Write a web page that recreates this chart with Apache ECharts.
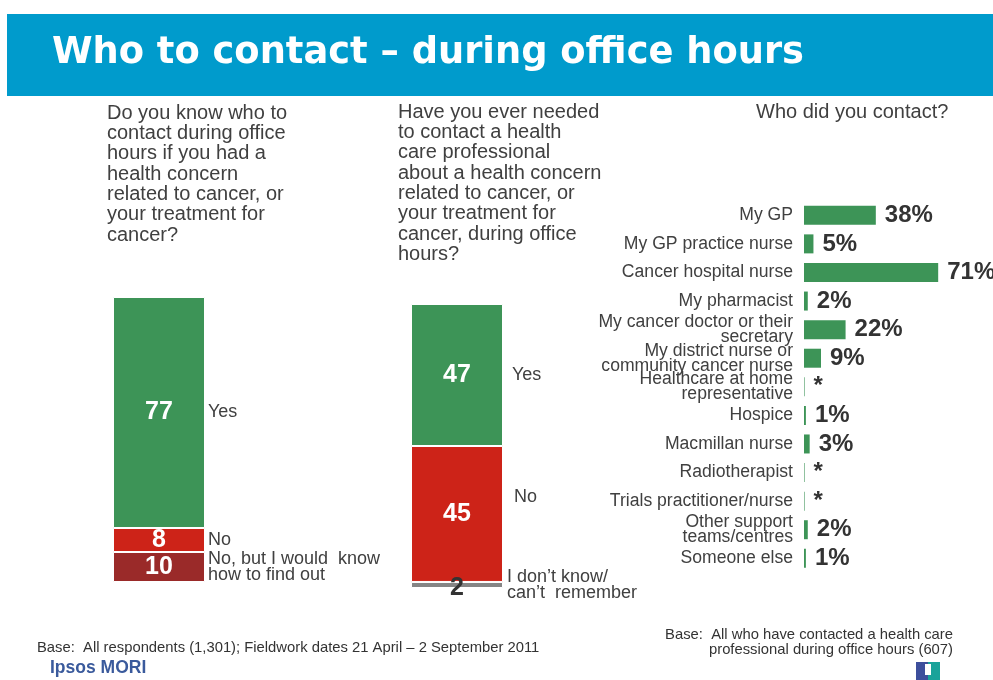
<!DOCTYPE html>
<html>
<head>
<meta charset="utf-8">
<script src="https://cdn.jsdelivr.net/npm/echarts@6/dist/echarts.min.js"></script>
<style>
html,body{margin:0;padding:0;background:#fff;}
#chart{width:993px;height:680px;}
</style>
</head>
<body>
<div id="chart"></div>
<script>
// ---- Data ----
var titleText = 'Who to contact \u2013 during office hours';

var q1Text = ['Do you know who to', 'contact during office', 'hours if you had a', 'health concern', 'related to cancer, or', 'your treatment for', 'cancer?'];
var q1Categories = ['Yes', 'No', 'No, but I would  know\nhow to find out'];
var q1Values = [77, 8, 10];

var q2Text = ['Have you ever needed', 'to contact a health', 'care professional', 'about a health concern', 'related to cancer, or', 'your treatment for', 'cancer, during office', 'hours?'];
var q2Categories = ['Yes', 'No', 'I don\u2019t know/\ncan\u2019t  remember'];
var q2Values = [47, 45, 2];

var q3Title = 'Who did you contact?';
var q3Categories = ['My GP', 'My GP practice nurse', 'Cancer hospital nurse', 'My pharmacist',
  'My cancer doctor or their\nsecretary', 'My district nurse or\ncommunity cancer nurse',
  'Healthcare at home\nrepresentative', 'Hospice', 'Macmillan nurse', 'Radiotherapist',
  'Trials practitioner/nurse', 'Other support\nteams/centres', 'Someone else'];
var q3Values = [38, 5, 71, 2, 22, 9, 0.3, 1, 3, 0.3, 0.3, 2, 1];
var q3Labels = ['38%', '5%', '71%', '2%', '22%', '9%', '*', '1%', '3%', '*', '*', '2%', '1%'];

var footLeft = 'Base:  All respondents (1,301); Fieldwork dates 21 April \u2013 2 September 2011';
var footRight = ['Base:  All who have contacted a health care', 'professional during office hours (607)'];
var brand = 'Ipsos MORI';

// ---- Styles ----
var GREEN = '#3d9457', RED = '#cd2318', DARKRED = '#9a2a29', GREY = '#858585';
var TXT = '#404040';
var FONT = '"Liberation Sans", Arial, sans-serif';

var chart = echarts.init(document.getElementById('chart'), null, {renderer: 'canvas'});

function stackSeries(prefix, gridIdx, values, colors, valueLabelStyles) {
  var out = [];
  values.forEach(function (v, i) {
    var lab = {show: true, position: 'inside', color: '#fff', fontSize: 25, fontWeight: 'bold', fontFamily: FONT};
    if (valueLabelStyles && valueLabelStyles[i]) Object.assign(lab, valueLabelStyles[i]);
    out.push({
      type: 'bar', xAxisIndex: gridIdx, yAxisIndex: gridIdx, stack: prefix + 'v',
      barWidth: '100%', barGap: '-100%',
      data: [v],
      itemStyle: {color: colors[i], borderColor: '#fff', borderWidth: 1},
      label: lab, silent: true
    });
  });
  return out;
}
function nameSeries(prefix, gridIdx, values, names, nameLabelStyles) {
  var out = [];
  values.forEach(function (v, i) {
    var lab = {show: true, position: 'right', distance: 3, color: TXT, fontSize: 18, fontFamily: FONT,
      lineHeight: 16, align: 'left', formatter: names[i]};
    if (nameLabelStyles && nameLabelStyles[i]) Object.assign(lab, nameLabelStyles[i]);
    out.push({
      type: 'bar', xAxisIndex: gridIdx, yAxisIndex: gridIdx, stack: prefix + 'n',
      barWidth: '100%', barGap: '-100%',
      data: [v],
      itemStyle: {color: 'rgba(0,0,0,0)'},
      label: lab, silent: true, z: 5
    });
  });
  return out;
}

var series = [];
series = series.concat(stackSeries('q1', 0, q1Values, [GREEN, RED, DARKRED]));
series = series.concat(nameSeries('q1', 0, q1Values, q1Categories, [null, null, null]));
series = series.concat(stackSeries('q2', 1, q2Values, [GREEN, RED, GREY],
  [null, null, {color: '#333', offset: [0, 3]}]));
series = series.concat(nameSeries('q2', 1, q2Values, q2Categories,
  [{distance: 9}, {distance: 11, offset: [0, -17]}, {distance: 4}]));

series.push({
  type: 'bar', xAxisIndex: 2, yAxisIndex: 2,
  data: q3Values, barWidth: 19,
  itemStyle: {color: GREEN},
  label: {
    show: true, position: 'right', distance: 9, color: '#333', fontSize: 24, fontWeight: 'bold', fontFamily: FONT,
    formatter: function (p) { return q3Labels[p.dataIndex]; }
  },
  silent: true
});

function qText(lines, x, y0) {
  return lines.map(function (t, i) {
    return {type: 'text', left: x, top: y0 + i * 20.35, style: {text: t, fill: TXT, font: '20px ' + FONT}};
  });
}

var graphics = [
  {type: 'rect', shape: {x: 7, y: 14, width: 986, height: 82}, style: {fill: '#009bcc'}},
  {type: 'text', left: 52, top: 35, style: {text: titleText, fill: '#fff', font: 'bold 36.8px "DejaVu Sans", sans-serif'}},
  {type: 'text', left: 756, top: 102, style: {text: q3Title, fill: TXT, font: '20px ' + FONT}},
  {type: 'text', left: 37, top: 640, style: {text: footLeft, fill: '#333', font: '14.8px ' + FONT}},
  {type: 'text', right: 40, top: 627, style: {text: footRight[0], fill: '#333', font: '14.8px ' + FONT}},
  {type: 'text', right: 40, top: 642, style: {text: footRight[1], fill: '#333', font: '14.8px ' + FONT}},
  {type: 'text', left: 50, top: 659, style: {text: brand, fill: '#3a5a9c', font: 'bold 17.5px ' + FONT}},
  {type: 'rect', shape: {x: 916, y: 662, width: 24, height: 18}, style: {fill: '#3d4f9c'}},
  {type: 'rect', shape: {x: 928, y: 662, width: 12, height: 18}, style: {fill: '#1aa39a'}},
  {type: 'rect', shape: {x: 925, y: 664, width: 6, height: 11}, style: {fill: '#ffffff'}}
].concat(qText(q1Text, 107, 103)).concat(qText(q2Text, 398, 102));

var option = {
  backgroundColor: '#fff',
  animation: false,
  textStyle: {fontFamily: FONT},
  grid: [
    {left: 113, top: 297, width: 92, height: 285},
    {left: 411, top: 304, width: 92, height: 284},
    {left: 804, top: 201, width: 189, height: 371.6}
  ],
  xAxis: [
    {gridIndex: 0, type: 'category', data: ['q1'], show: false},
    {gridIndex: 1, type: 'category', data: ['q2'], show: false},
    {gridIndex: 2, type: 'value', min: 0, max: 100, show: false}
  ],
  yAxis: [
    {gridIndex: 0, type: 'value', inverse: true, min: 0, max: 95, show: false},
    {gridIndex: 1, type: 'value', inverse: true, min: 0, max: 94, show: false},
    {gridIndex: 2, type: 'category', inverse: true, data: q3Categories,
      axisLine: {show: false}, axisTick: {show: false}, splitLine: {show: false},
      axisLabel: {show: true, color: TXT, fontSize: 17.6, fontFamily: FONT, lineHeight: 15, margin: 11, align: 'right'}}
  ],
  series: series,
  graphic: graphics
};
chart.setOption(option);
</script>
</body>
</html>
